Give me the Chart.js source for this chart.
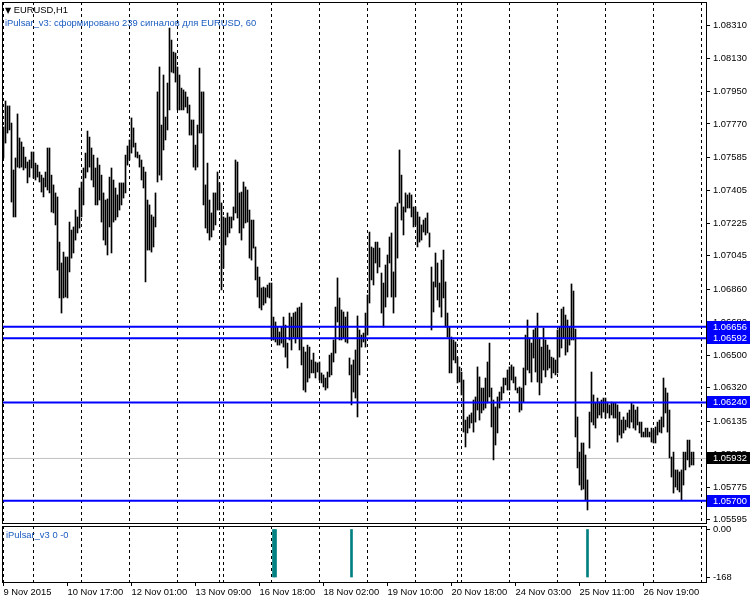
<!DOCTYPE html>
<html><head><meta charset="utf-8">
<script src="https://cdn.jsdelivr.net/npm/chart.js@4/dist/chart.umd.min.js"></script>
<style>
html,body{margin:0;padding:0;background:#fff;}
#wrap{position:relative;width:750px;height:600px;overflow:hidden;font-family:"Liberation Sans",Arial,sans-serif;}
#c1{position:absolute;left:0;top:0;}
#c2{position:absolute;left:0;top:524px;}
.t{position:absolute;font-size:9.4px;white-space:nowrap;line-height:11px;}
</style></head><body>
<div id="wrap">
<canvas id="c1" width="750" height="524"></canvas>
<canvas id="c2" width="750" height="76"></canvas>
<div class="t" style="left:5px;top:4px;color:#000"><span style="font-family:'DejaVu Sans';font-size:8px">▼</span> EURUSD,H1</div>
<div class="t" style="left:5px;top:17px;color:#1a5cc0">iPulsar_v3: сформировано 239 сигналов для EURUSD, 60</div>
<div class="t" style="left:6px;top:529px;color:#1a5cc0">iPulsar_v3 0 -0</div>
</div>
<script>
// ---------- data ----------
const dayNames     = ['9 Nov','10 Nov','11 Nov','12 Nov','13 Nov','15 Nov','16 Nov','17 Nov','18 Nov','19 Nov','20 Nov','22 Nov','23 Nov','24 Nov','25 Nov','26 Nov','27 Nov'];
const dayFirstHour = [9,0,0,0,0,22,0,0,0,0,0,22,0,0,0,0,0];
const dayBarCount  = [15,24,24,24,21,2,24,24,24,24,21,2,24,24,24,24,21];
const timeTickLabels = ['9 Nov 2015','10 Nov 17:00','12 Nov 01:00','13 Nov 09:00','16 Nov 18:00','18 Nov 02:00','19 Nov 10:00','20 Nov 18:00','24 Nov 03:00','25 Nov 11:00','26 Nov 19:00'];
const priceTicks = [1.08310,1.08130,1.07950,1.07770,1.07585,1.07405,1.07225,1.07045,1.06860,1.06680,1.06500,1.06320,1.06135,1.05955,1.05775,1.05595];
const levelLines = [1.06656,1.06592,1.06240,1.05700];
const currentPrice = 1.05932;

const highs = [
1.07753,1.07896,1.07869,1.07869,1.07775,1.07517,1.07583,1.07825,1.07693,1.07671,
1.07643,1.07588,1.07561,1.07572,1.07616,1.07616,1.07555,1.07544,1.07506,1.07489,
1.07473,1.07506,1.07638,1.07638,1.07489,1.07435,1.07391,1.07369,1.07121,1.07006,
1.07066,1.07039,1.07039,1.07231,1.07187,1.07204,1.07297,1.07259,1.07418,1.07451,
1.07528,1.07610,1.07731,1.07698,1.07638,1.07599,1.07528,1.07583,1.07544,1.07489,
1.07391,1.07352,1.07358,1.07478,1.07528,1.07462,1.07418,1.07380,1.07446,1.07446,
1.07446,1.07599,1.07649,1.07682,1.07803,1.07748,1.07665,1.07616,1.07599,1.07572,
1.07533,1.07506,1.07352,1.07325,1.07270,1.07259,1.07391,1.07946,1.08083,1.07764,
1.08039,1.07808,1.07995,1.08297,1.08231,1.08165,1.08160,1.08083,1.08039,1.07967,
1.07957,1.07946,1.07918,1.07874,1.07792,1.07792,1.07654,1.07764,1.08077,1.07946,
1.07946,1.07435,1.07555,1.07352,1.07281,1.07391,1.07391,1.07506,1.07446,1.07336,
1.07259,1.07253,1.07281,1.07259,1.07259,1.07314,1.07572,1.07561,1.07391,1.07396,
1.07451,1.07424,1.07407,1.07297,1.07242,1.07242,1.07094,1.06984,1.06929,1.06869,
1.06874,1.06869,1.06885,1.06896,1.06896,1.06709,1.06682,1.06654,1.06627,1.06654,
1.06709,1.06665,1.06566,1.06731,1.06709,1.06731,1.06737,1.06759,1.06764,1.06786,
1.06544,1.06517,1.06555,1.06544,1.06473,1.06511,1.06462,1.06457,1.06462,1.06402,
1.06391,1.06374,1.06407,1.06500,1.06511,1.06583,1.06764,1.06924,1.06814,1.06748,
1.06737,1.06709,1.06737,1.06484,1.06446,1.06473,1.06528,1.06715,1.06638,1.06610,
1.06621,1.06731,1.06830,1.07176,1.07094,1.07088,1.07121,1.07121,1.07088,1.06951,
1.06896,1.06995,1.07050,1.07149,1.07171,1.06957,1.07314,1.07336,1.07627,1.07489,
1.07314,1.07391,1.07380,1.07391,1.07380,1.07314,1.07314,1.07286,1.07259,1.07215,
1.07242,1.07253,1.07281,1.07171,1.06984,1.06902,1.07061,1.07006,1.06896,1.07022,
1.07077,1.06902,1.06731,1.06654,1.06599,1.06583,1.06572,1.06489,1.06435,1.06407,
1.06363,1.06143,1.06160,1.06171,1.06182,1.06253,1.06270,1.06435,1.06380,1.06319,
1.06319,1.06374,1.06462,1.06566,1.06319,1.06253,1.06215,1.06270,1.06297,1.06325,
1.06374,1.06374,1.06418,1.06435,1.06446,1.06435,1.06380,1.06319,1.06325,1.06319,
1.06429,1.06610,1.06693,1.06594,1.06566,1.06638,1.06649,1.06731,1.06594,1.06544,
1.06649,1.06583,1.06555,1.06528,1.06489,1.06484,1.06473,1.06638,1.06654,1.06753,
1.06764,1.06720,1.06693,1.06654,1.06891,1.06852,1.06643,1.06160,1.05967,1.06017,
1.06017,1.05951,1.05814,1.06187,1.06407,1.06281,1.06237,1.06264,1.06242,1.06253,
1.06264,1.06264,1.06242,1.06226,1.06242,1.06237,1.06237,1.06226,1.06187,1.06143,
1.06160,1.06143,1.06182,1.06198,1.06237,1.06226,1.06198,1.06215,1.06132,1.06132,
1.06077,1.06099,1.06099,1.06077,1.06099,1.06088,1.06105,1.06132,1.06143,1.06160,
1.06374,1.06319,1.06292,1.06198,1.05940,1.05967,1.05869,1.05869,1.05858,1.05869,
1.05967,1.05967,1.06033,1.06033,1.05967,1.05967];

const lows = [
1.07583,1.07665,1.07720,1.07737,1.07341,1.07259,1.07259,1.07533,1.07528,1.07533,
1.07517,1.07528,1.07446,1.07478,1.07528,1.07473,1.07462,1.07478,1.07451,1.07396,
1.07369,1.07424,1.07407,1.07391,1.07286,1.07281,1.07215,1.06967,1.06814,1.06731,
1.06814,1.06819,1.06814,1.06957,1.07033,1.07061,1.07132,1.07171,1.07198,1.07259,
1.07325,1.07473,1.07506,1.07533,1.07462,1.07424,1.07325,1.07325,1.07352,1.07231,
1.07132,1.07105,1.07050,1.07204,1.07061,1.07231,1.07242,1.07259,1.07297,1.07325,
1.07363,1.07391,1.07544,1.07572,1.07610,1.07643,1.07588,1.07583,1.07533,1.07462,
1.07418,1.06902,1.07077,1.07077,1.07066,1.07094,1.07204,1.07451,1.07489,1.07462,
1.07627,1.07682,1.07737,1.07847,1.08055,1.08050,1.08000,1.07847,1.07847,1.07847,
1.07847,1.07863,1.07830,1.07709,1.07709,1.07533,1.07517,1.07533,1.07720,1.07720,
1.07325,1.07198,1.07171,1.07132,1.07149,1.07187,1.07215,1.07297,1.07297,1.06858,
1.06978,1.07105,1.07149,1.07171,1.07198,1.07242,1.07281,1.07253,1.07171,1.07132,
1.07198,1.07226,1.07231,1.07033,1.07022,1.07088,1.06913,1.06819,1.06759,1.06748,
1.06775,1.06786,1.06819,1.06814,1.06583,1.06583,1.06572,1.06555,1.06555,1.06566,
1.06544,1.06489,1.06429,1.06583,1.06528,1.06599,1.06566,1.06594,1.06528,1.06446,
1.06308,1.06297,1.06352,1.06374,1.06402,1.06402,1.06374,1.06407,1.06363,1.06347,
1.06325,1.06308,1.06319,1.06380,1.06391,1.06462,1.06511,1.06682,1.06583,1.06583,
1.06594,1.06572,1.06566,1.06391,1.06226,1.06297,1.06264,1.06160,1.06391,1.06544,
1.06572,1.06544,1.06610,1.06786,1.06913,1.06885,1.07006,1.06951,1.06984,1.06731,
1.06654,1.06764,1.06819,1.07006,1.06819,1.06731,1.06819,1.07033,1.07336,1.07242,
1.07160,1.07286,1.07308,1.07308,1.07259,1.07204,1.07215,1.07094,1.07121,1.07132,
1.07176,1.07160,1.07171,1.07094,1.06638,1.06737,1.06874,1.06803,1.06764,1.06709,
1.06814,1.06654,1.06599,1.06402,1.06402,1.06473,1.06457,1.06347,1.06352,1.06281,
1.06077,1.05995,1.06072,1.06099,1.06127,1.06077,1.06132,1.06198,1.06143,1.06182,
1.06198,1.06209,1.06237,1.06270,1.06105,1.05924,1.06006,1.06072,1.06209,1.06253,
1.06292,1.06336,1.06308,1.06308,1.06363,1.06347,1.06308,1.06292,1.06187,1.06198,
1.06242,1.06336,1.06418,1.06402,1.06352,1.06484,1.06407,1.06352,1.06281,1.06347,
1.06418,1.06380,1.06418,1.06429,1.06374,1.06402,1.06391,1.06402,1.06489,1.06539,
1.06594,1.06500,1.06517,1.06555,1.06583,1.06583,1.06050,1.05880,1.05786,1.05759,
1.05764,1.05704,1.05649,1.05989,1.06132,1.06116,1.06099,1.06154,1.06171,1.06154,
1.06187,1.06154,1.06182,1.06154,1.06171,1.06154,1.06154,1.06022,1.06061,1.06044,
1.06072,1.06088,1.06105,1.06099,1.06132,1.06099,1.06088,1.06116,1.06072,1.06050,
1.06050,1.06050,1.06050,1.06050,1.06022,1.06017,1.06017,1.06061,1.06077,1.06072,
1.06105,1.06182,1.06077,1.05935,1.05830,1.05742,1.05775,1.05759,1.05748,1.05704,
1.05786,1.05869,1.05924,1.05885,1.05896,1.05896];

const signalBars   = [135,136,174,292];
const signalValues = [-168,-168,-168,-168];
const indicatorTicks = [0,-168];

// ---------- derived ----------
const times = [], dayStarts = [];
dayNames.forEach((d,k)=>{
  dayStarts.push(times.length);
  for(let h=0;h<dayBarCount[k];h++) times.push(d+' '+String(dayFirstHour[k]+h).padStart(2,'0')+':00');
});
const separators = dayStarts.concat([dayStarts[dayStarts.length-1]+24]);
const tickIdx = timeTickLabels.map((l,k)=> k===0 ? 0 : times.indexOf(l));

const XMIN=-0.75, XMAX=351.25;
const YMIN=1.055774, YMAX=1.084401;

Chart.defaults.font.family = "'Liberation Sans', Arial, sans-serif";
Chart.defaults.font.size = 9.4;
Chart.defaults.color = '#000';

const hline = v => [{x:XMIN,y:v},{x:XMAX,y:v}];
const noPad = s => { s.paddingTop=0; s.paddingBottom=0; s.paddingLeft=0; s.paddingRight=0; };

const panelBorder = {id:'panelBorder', afterDraw(chart){
  const a=chart.chartArea, c=chart.ctx; c.save(); c.strokeStyle='#000'; c.lineWidth=1;
  c.strokeRect(a.left+0.5, a.top+0.5, a.right-a.left, a.bottom-a.top); c.restore();
}};
const priceBoxes = {id:'priceBoxes', afterDraw(chart){
  const s=chart.scales.y, c=chart.ctx; c.save();
  c.font="9.4px 'Liberation Sans', Arial, sans-serif"; c.textBaseline='middle'; c.textAlign='left';
  const items = levelLines.map(v=>[v,'#0000ff']).concat([[currentPrice,'#000000']]);
  items.forEach(([v,col])=>{
    const y=Math.round(s.getPixelForValue(v));
    c.fillStyle=col; c.fillRect(s.left+1, y-6, chart.width-s.left-1, 12);
    c.fillStyle='#fff'; c.fillText(v.toFixed(5), s.left+7, y+0.5);
  });
  c.restore();
}};

const barData = highs.map((h,i)=>({x:i, y:[lows[i], h]}));

new Chart(document.getElementById('c1'), {
  data:{datasets:[
    {type:'line', data:hline(currentPrice), borderColor:'#c0c0c0', borderWidth:1, pointRadius:0, order:3},
    {type:'bar', data:barData, backgroundColor:'#000', borderWidth:0, barThickness:1, order:2},
    ...levelLines.map(v=>({type:'line', data:hline(v), borderColor:'#0000ff', borderWidth:2, pointRadius:0, order:1}))
  ]},
  options:{
    responsive:false, animation:false, events:[],
    layout:{padding:{left:2, top:2, right:0, bottom:1}},
    plugins:{legend:{display:false}, tooltip:{enabled:false}},
    scales:{
      x:{type:'linear', min:XMIN, max:XMAX, offset:false, position:'bottom',
         afterBuildTicks:s=>{ s.ticks=separators.map(v=>({value:v})); },
         ticks:{display:false},
         grid:{drawTicks:false, color:'#000', lineWidth:1, offset:false},
         border:{display:false, dash:[3,3]},
         afterFit:s=>{ s.height=0; noPad(s); }},
      y:{type:'linear', position:'right', min:YMIN, max:YMAX,
         afterBuildTicks:s=>{ s.ticks=priceTicks.map(v=>({value:v})); },
         ticks:{callback:v=>v.toFixed(5), padding:3, autoSkip:false, color:'#000'},
         grid:{drawOnChartArea:false, tickLength:4, color:'#000'},
         border:{display:true, color:'#000'},
         afterFit:s=>{ s.width=44; noPad(s); }}
    }
  },
  plugins:[panelBorder, priceBoxes]
});

new Chart(document.getElementById('c2'), {
  data:{datasets:[
    {type:'bar', xAxisID:'x', data:signalBars.map((i,k)=>({x:i, y:signalValues[k]})), backgroundColor:'#008080', borderWidth:0, barThickness:2}
  ]},
  options:{
    responsive:false, animation:false, events:[],
    layout:{padding:{left:2, top:2, right:0, bottom:0}},
    plugins:{legend:{display:false}, tooltip:{enabled:false}},
    scales:{
      x:{type:'linear', min:XMIN, max:XMAX, offset:false, position:'bottom',
         afterBuildTicks:s=>{ s.ticks=tickIdx.map(v=>({value:v})); },
         ticks:{autoSkip:false, maxRotation:0, minRotation:0, align:'start', padding:1, color:'#000',
                callback:(v,i)=>timeTickLabels[i]},
         grid:{drawOnChartArea:false, drawTicks:true, tickLength:4, color:'#000', offset:false},
         border:{display:true, color:'#000'},
         afterFit:s=>{ s.height=18; noPad(s); }},
      xs:{type:'linear', min:XMIN, max:XMAX, offset:false, position:'bottom',
         afterBuildTicks:s=>{ s.ticks=separators.map(v=>({value:v})); },
         ticks:{display:false},
         grid:{drawTicks:false, color:'#000', lineWidth:1, offset:false},
         border:{display:false, dash:[3,3]},
         afterFit:s=>{ s.height=0; noPad(s); }},
      y:{type:'linear', position:'right', min:-185.5, max:10.5,
         afterBuildTicks:s=>{ s.ticks=indicatorTicks.map(v=>({value:v})); },
         ticks:{callback:v=> v===0 ? '0.00' : String(v), padding:3, autoSkip:false, color:'#000'},
         grid:{drawOnChartArea:false, tickLength:4, color:'#000'},
         border:{display:true, color:'#000'},
         afterFit:s=>{ s.width=44; noPad(s); }}
    }
  },
  plugins:[panelBorder]
});
</script>
</body></html>
